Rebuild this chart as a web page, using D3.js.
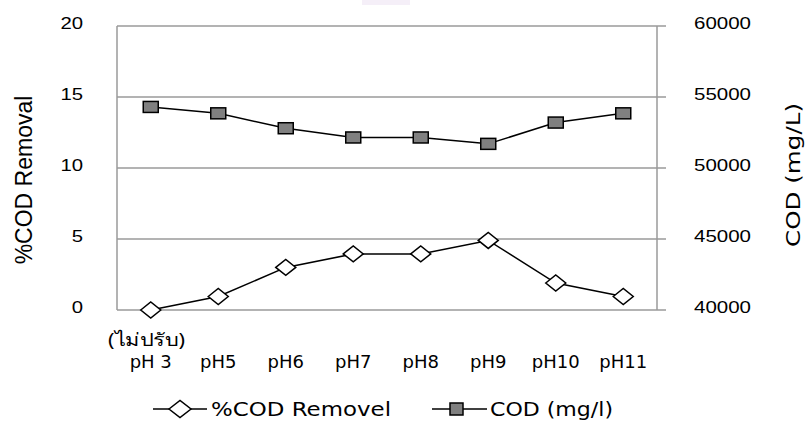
<!DOCTYPE html>
<html>
<head>
<meta charset="utf-8">
<script src="https://cdn.jsdelivr.net/npm/d3@7"></script>
<style>
  body { margin: 0; background: #fff; }
  svg { display: block; }
</style>
</head>
<body>
<svg id="chart" width="806" height="421"></svg>
<script>
// data
const categories = ["pH 3", "pH5", "pH6", "pH7", "pH8", "pH9", "pH10", "pH11"];
const codRemoval = [0, 0.95, 3.0, 3.95, 3.95, 4.9, 1.9, 0.95];
const codMgL = [54300, 53850, 52800, 52150, 52150, 51700, 53200, 53850];
const leftTicks = [0, 5, 10, 15, 20];
const rightTicks = [40000, 45000, 50000, 55000, 60000];

const svg = d3.select("#chart");
const m = {left: 117, right: 657, top: 26, bottom: 310};
const gridColor = "#9a9a9a";
const numFont = "'Liberation Sans', Arial, sans-serif";
const catFont = "'DejaVu Sans', 'Noto Sans', sans-serif";

const x = d3.scaleBand().domain(categories).range([m.left, m.right]);
const yL = d3.scaleLinear().domain([0, 20]).range([m.bottom, m.top]);
const yR = d3.scaleLinear().domain([40000, 60000]).range([m.bottom, m.top]);
const cx = d => x(d) + x.bandwidth() / 2;

// faint smudge left over at the top of the scan
svg.append("rect")
    .attr("x", 362).attr("y", 0).attr("width", 48).attr("height", 5)
    .attr("fill", "#f5eff8");

// gridlines (they run out through the right axis ticks)
svg.append("g")
    .selectAll("line")
    .data(leftTicks)
    .join("line")
    .attr("x1", m.left).attr("x2", m.right + 9)
    .attr("y1", d => yL(d)).attr("y2", d => yL(d))
    .attr("stroke", gridColor)
    .attr("stroke-width", 1.5);

// axis lines
[m.left, m.right].forEach(ax => {
    svg.append("line")
        .attr("x1", ax).attr("x2", ax)
        .attr("y1", m.top).attr("y2", m.bottom)
        .attr("stroke", gridColor).attr("stroke-width", 1.5);
});

// tick labels (stretched a bit, like the picture)
svg.append("g")
    .selectAll("text")
    .data(leftTicks)
    .join("text")
    .attr("x", 83)
    .attr("y", d => yL(d) + 3)
    .attr("text-anchor", "end")
    .attr("font-family", numFont)
    .attr("font-size", 17)
    .attr("textLength", d => String(d).length * 11.3)
    .attr("lengthAdjust", "spacingAndGlyphs")
    .text(d => d);

svg.append("g")
    .selectAll("text")
    .data(rightTicks)
    .join("text")
    .attr("x", 694)
    .attr("y", d => yR(d) + 3)
    .attr("font-family", numFont)
    .attr("font-size", 17)
    .attr("textLength", d => String(d).length * 11.4)
    .attr("lengthAdjust", "spacingAndGlyphs")
    .text(d => d);

// category labels
svg.append("g")
    .selectAll("text")
    .data(categories)
    .join("text")
    .attr("x", cx)
    .attr("y", 368)
    .attr("text-anchor", "middle")
    .attr("font-family", catFont)
    .attr("font-size", 18)
    .text(d => d);

svg.append("text")
    .attr("x", 108)
    .attr("y", 346)
    .attr("font-family", "'Noto Sans', 'DejaVu Sans', sans-serif")
    .attr("font-size", 18)
    .attr("textLength", 77)
    .attr("lengthAdjust", "spacingAndGlyphs")
    .text("(ไม่ปรับ)");

// axis titles
svg.append("text")
    .attr("transform", "translate(32,180) rotate(-90)")
    .attr("text-anchor", "middle")
    .attr("font-family", numFont)
    .attr("font-size", 23)
    .text("%COD Removal");

svg.append("text")
    .attr("transform", "translate(800,175) rotate(-90)")
    .attr("text-anchor", "middle")
    .attr("font-family", catFont)
    .attr("font-size", 19)
    .attr("textLength", 144)
    .attr("lengthAdjust", "spacingAndGlyphs")
    .text("COD (mg/L)");

const diamond = "M -10 0 L 0 -8 L 10 0 L 0 8 Z";

// COD series
svg.append("path")
    .datum(categories)
    .attr("fill", "none")
    .attr("stroke", "#000")
    .attr("stroke-width", 1.5)
    .attr("d", d3.line().x(cx).y((d, i) => yR(codMgL[i])));

svg.append("g")
    .selectAll("rect")
    .data(categories)
    .join("rect")
    .attr("x", d => cx(d) - 7.5)
    .attr("y", (d, i) => yR(codMgL[i]) - 5.5)
    .attr("width", 15)
    .attr("height", 11)
    .attr("fill", "#808080")
    .attr("stroke", "#000")
    .attr("stroke-width", 1.5);

// %COD removal series
svg.append("path")
    .datum(categories)
    .attr("fill", "none")
    .attr("stroke", "#000")
    .attr("stroke-width", 1.5)
    .attr("d", d3.line().x(cx).y((d, i) => yL(codRemoval[i])));

svg.append("g")
    .selectAll("path")
    .data(categories)
    .join("path")
    .attr("transform", (d, i) => "translate(" + cx(d) + "," + yL(codRemoval[i]) + ")")
    .attr("d", diamond)
    .attr("fill", "#fff")
    .attr("stroke", "#000")
    .attr("stroke-width", 1.5);

// legend
const legend = svg.append("g");
legend.append("line")
    .attr("x1", 153).attr("x2", 207).attr("y1", 409).attr("y2", 409)
    .attr("stroke", "#000").attr("stroke-width", 1.5);
legend.append("path")
    .attr("transform", "translate(180,409)")
    .attr("d", "M -11 0 L 0 -8.5 L 11 0 L 0 8.5 Z")
    .attr("fill", "#fff").attr("stroke", "#000").attr("stroke-width", 1.5);
legend.append("text")
    .attr("x", 211).attr("y", 416)
    .attr("font-family", catFont).attr("font-size", 19)
    .attr("textLength", 180)
    .attr("lengthAdjust", "spacingAndGlyphs")
    .text("%COD Removel");

legend.append("line")
    .attr("x1", 432).attr("x2", 487).attr("y1", 409).attr("y2", 409)
    .attr("stroke", "#000").attr("stroke-width", 1.5);
legend.append("rect")
    .attr("x", 450).attr("y", 403).attr("width", 13).attr("height", 12)
    .attr("fill", "#808080").attr("stroke", "#000").attr("stroke-width", 1.5);
legend.append("text")
    .attr("x", 490).attr("y", 416)
    .attr("font-family", catFont).attr("font-size", 19)
    .attr("textLength", 123)
    .attr("lengthAdjust", "spacingAndGlyphs")
    .text("COD (mg/l)");
</script>
</body>
</html>
